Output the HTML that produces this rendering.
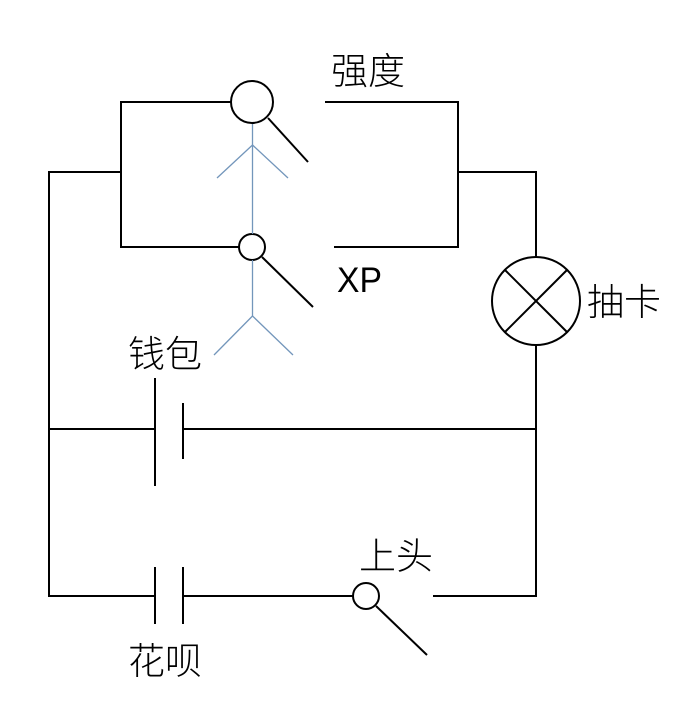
<!DOCTYPE html>
<html><head><meta charset="utf-8"><style>
html,body{margin:0;padding:0;background:#fff;}
svg{display:block;}
text{font-family:"Liberation Sans","Noto Sans CJK SC",sans-serif;fill:#000;}
.cjk{font-weight:300;}
</style></head><body>
<svg width="689" height="720" viewBox="0 0 689 720" xmlns="http://www.w3.org/2000/svg">
<rect width="689" height="720" fill="#fff"/>
<g stroke="#000" stroke-width="2" fill="none" stroke-linecap="square">
<!-- left rail -->
<line x1="49" y1="172" x2="49" y2="596"/>
<line x1="49" y1="172" x2="121" y2="172"/>
<!-- upper box -->
<line x1="121" y1="102" x2="121" y2="247"/>
<line x1="121" y1="102" x2="231" y2="102"/>
<line x1="121" y1="247" x2="239" y2="247"/>
<circle cx="252" cy="102" r="21"/>
<line x1="268" y1="118" x2="308" y2="162" stroke-linecap="butt"/>
<line x1="326" y1="102" x2="458" y2="102"/>
<line x1="458" y1="102" x2="458" y2="247"/>
<line x1="335" y1="247" x2="458" y2="247"/>
<circle cx="252" cy="247" r="13"/>
<line x1="262" y1="257" x2="313" y2="307" stroke-linecap="butt"/>
<!-- right side -->
<line x1="458" y1="172" x2="536" y2="172"/>
<line x1="536" y1="172" x2="536" y2="257"/>
<circle cx="536" cy="301" r="44"/>
<line x1="505" y1="270" x2="567" y2="332" stroke-linecap="butt"/>
<line x1="567" y1="270" x2="505" y2="332" stroke-linecap="butt"/>
<line x1="536" y1="345" x2="536" y2="596"/>
<!-- middle rung -->
<line x1="49" y1="429" x2="155" y2="429"/>
<line x1="155" y1="378" x2="155" y2="486" stroke-linecap="butt"/>
<line x1="183" y1="403" x2="183" y2="459" stroke-linecap="butt"/>
<line x1="183" y1="429" x2="536" y2="429"/>
<!-- bottom rung -->
<line x1="49" y1="596" x2="155" y2="596"/>
<line x1="155" y1="567" x2="155" y2="624" stroke-linecap="butt"/>
<line x1="183" y1="567" x2="183" y2="624" stroke-linecap="butt"/>
<line x1="183" y1="596" x2="353" y2="596"/>
<circle cx="366" cy="596" r="13"/>
<line x1="376" y1="606" x2="427" y2="655" stroke-linecap="butt"/>
<line x1="434" y1="596" x2="536" y2="596"/>
</g>
<!-- stick figure (blue) -->
<g stroke="#7396bb" stroke-width="1.3" fill="none">
<line x1="252.5" y1="124" x2="252.5" y2="234"/>
<line x1="252.5" y1="145" x2="217" y2="178"/>
<line x1="252.5" y1="145" x2="288" y2="178"/>
<line x1="252.5" y1="260" x2="252.5" y2="316"/>
<line x1="252.5" y1="316" x2="214" y2="355"/>
<line x1="252.5" y1="316" x2="293" y2="355"/>
</g>
<!-- labels -->
<text class="cjk" x="331" y="84" font-size="37">强度</text>
<text x="337" y="292" font-size="35" textLength="45" lengthAdjust="spacingAndGlyphs">XP</text>
<text class="cjk" x="587" y="315" font-size="37">抽卡</text>
<text class="cjk" x="128" y="367" font-size="37">钱包</text>
<text class="cjk" x="359" y="569" font-size="37">上头</text>
<text class="cjk" x="128" y="674" font-size="37">花呗</text>
</svg>
</body></html>
